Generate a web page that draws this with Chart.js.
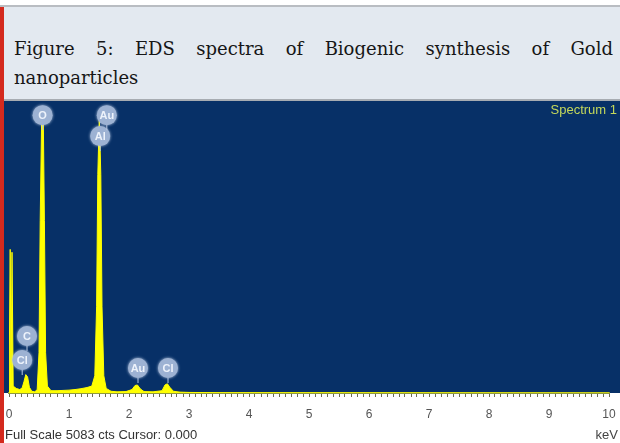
<!DOCTYPE html>
<html>
<head>
<meta charset="utf-8">
<script src="https://cdn.jsdelivr.net/npm/chart.js@4.4.1/dist/chart.umd.min.js"></script>
<style>
  body { margin: 0; width: 620px; height: 443px; position: relative; overflow: hidden; background: #fff; }
  #topline { position: absolute; left: 0; top: 5px; width: 620px; height: 2px; background: #b9bdc2; }
  #redbar { position: absolute; left: 0; top: 7px; width: 4px; height: 436px; background: #d42a1e; }
  #caption {
    position: absolute; left: 4px; top: 7px; width: 616px; height: 92px;
    background: #e3e9f0; box-sizing: border-box; padding: 27px 7px 0 10px;
    font-family: "DejaVu Serif", serif; font-size: 18px; line-height: 29px;
    color: #161616; text-align: justify;
  }
  #capline { position: absolute; left: 4px; top: 99px; width: 616px; height: 2px; background: #a7acb2; }
  #plot { position: absolute; left: 4px; top: 101px; width: 616px; height: 342px; }
</style>
</head>
<body>
<div id="topline"></div>
<div id="caption">Figure 5: EDS spectra of Biogenic synthesis of Gold nanoparticles</div>
<div id="capline"></div>
<div id="redbar"></div>
<div id="plot"><canvas id="specCanvas"></canvas></div>
<script>
// spectrum (keV, counts)
const energy = [0.00, 0.02, 0.035, 0.05, 0.07, 0.12, 0.18, 0.22, 0.25, 0.28, 0.31, 0.34, 0.38, 0.43,
  0.47, 0.50, 0.52, 0.545, 0.57, 0.59, 0.61, 0.64, 0.70, 0.80, 0.90, 1.00, 1.10, 1.20, 1.30, 1.38,
  1.43, 1.46, 1.48, 1.505, 1.53, 1.55, 1.58, 1.62, 1.70, 1.80, 1.95, 2.05, 2.10, 2.14, 2.19, 2.25,
  2.40, 2.55, 2.60, 2.64, 2.68, 2.74, 2.85, 3.00, 3.50, 10.0];
const counts = [0, 2500, 150, 2450, 120, 80, 60, 90, 200, 320, 280, 100, 30, 20,
  60, 700, 3000, 4850, 4950, 3000, 700, 120, 40, 40, 45, 50, 60, 75, 95, 120,
  300, 1500, 3800, 4800, 3800, 1500, 300, 80, 30, 20, 25, 60, 130, 140, 70, 25,
  20, 40, 140, 160, 100, 30, 15, 10, 5, 0];

// element markers
const peakNames = ["Cl", "C", "O", "Al", "Au", "Au", "Cl"];
const peakKeV = [0.22, 0.30, 0.56, 1.52, 1.63, 2.15, 2.65];
const peakLabelCts = [574, 992, 4837, 4472, 4837, 435, 435];

const tickLabels = ["0", "1", "2", "3", "4", "5", "6", "7", "8", "9", "10"];
const fullScale = 5083;

const bgBlue = "#073067";

const panelPlugin = {
  id: "panel",
  beforeDraw(chart) {
    const { ctx, chartArea } = chart;
    ctx.save();
    ctx.fillStyle = bgBlue;
    ctx.fillRect(0, 0, chart.width, chartArea.bottom);
    ctx.restore();
  },
  afterDatasetsDraw(chart) {
    const { ctx } = chart;
    const xs = chart.scales.x;
    const ys = chart.scales.y;
    ctx.save();
    for (let i = 0; i < peakNames.length; i++) {
      const px = xs.getPixelForValue(peakKeV[i]);
      const py = ys.getPixelForValue(peakLabelCts[i]);
      const r = 10;
      // stem
      ctx.strokeStyle = "#b7c7e2";
      ctx.lineWidth = 1;
      ctx.beginPath();
      ctx.moveTo(px, py + r);
      ctx.lineTo(px, py + r + 5);
      ctx.stroke();
      // bubble
      ctx.shadowColor = "rgba(205,218,240,0.9)";
      ctx.shadowBlur = 3;
      ctx.fillStyle = "#9db2d3";
      ctx.beginPath();
      ctx.arc(px, py, r, 0, Math.PI * 2);
      ctx.fill();
      ctx.shadowBlur = 0;
      ctx.fillStyle = "#eef3fb";
      ctx.font = "bold 11px 'Liberation Sans'";
      ctx.textAlign = "center";
      ctx.textBaseline = "middle";
      ctx.fillText(peakNames[i], px, py + 0.5);
    }
    ctx.restore();
  },
  afterDraw(chart) {
    const { ctx, chartArea } = chart;
    ctx.save();
    ctx.font = "13px 'Liberation Sans'";
    ctx.textBaseline = "alphabetic";
    ctx.fillStyle = "#c5d85a";
    ctx.textAlign = "right";
    ctx.fillText("Spectrum 1", chart.width - 3, 13);
    ctx.fillStyle = "#333";
    ctx.textAlign = "left";
    ctx.fillText("Full Scale " + fullScale + " cts Cursor: 0.000", 1, chartArea.bottom + 46);
    ctx.fillStyle = "#444";
    ctx.textAlign = "right";
    ctx.fillText("keV", chart.width - 2, chartArea.bottom + 46);
    ctx.restore();
  },
};

const ctx = document.getElementById("specCanvas").getContext("2d");
const chart = new Chart(ctx, {
  type: "line",
  data: {
    datasets: [
      {
        data: energy.map((e, i) => ({ x: e, y: counts[i] })),
        borderColor: "#ffff00",
        backgroundColor: "#ffff00",
        borderWidth: 1,
        fill: "origin",
        pointRadius: 0,
        tension: 0,
      },
    ],
  },
  options: {
    responsive: true,
    maintainAspectRatio: false,
    animation: false,
    layout: { padding: { left: 5, right: 11, top: 0, bottom: 0 } },
    plugins: { legend: { display: false }, tooltip: { enabled: false } },
    scales: {
      x: {
        type: "linear",
        min: 0,
        max: 10,
        afterFit(scale) {
          scale.height = 50;
          scale.paddingLeft = 0;
          scale.paddingRight = 0;
        },
        afterBuildTicks(scale) {
          const t = [];
          for (let i = 0; i <= 100; i++) t.push({ value: i / 10 });
          scale.ticks = t;
        },
        ticks: {
          autoSkip: false,
          maxRotation: 0,
          padding: 10,
          color: "#555",
          font: { family: "Liberation Sans", size: 12 },
          callback(v) {
            const k = Math.round(v);
            return Math.abs(v - k) < 1e-6 ? tickLabels[k] : "";
          },
        },
        grid: { drawOnChartArea: false, drawTicks: true, tickLength: 4, color: "#6b6b55" },
        border: { display: true, color: "#8f9a3c", width: 2 },
      },
      y: { display: false, min: 0, max: fullScale },
    },
  },
  plugins: [panelPlugin],
});
</script>
</body>
</html>
